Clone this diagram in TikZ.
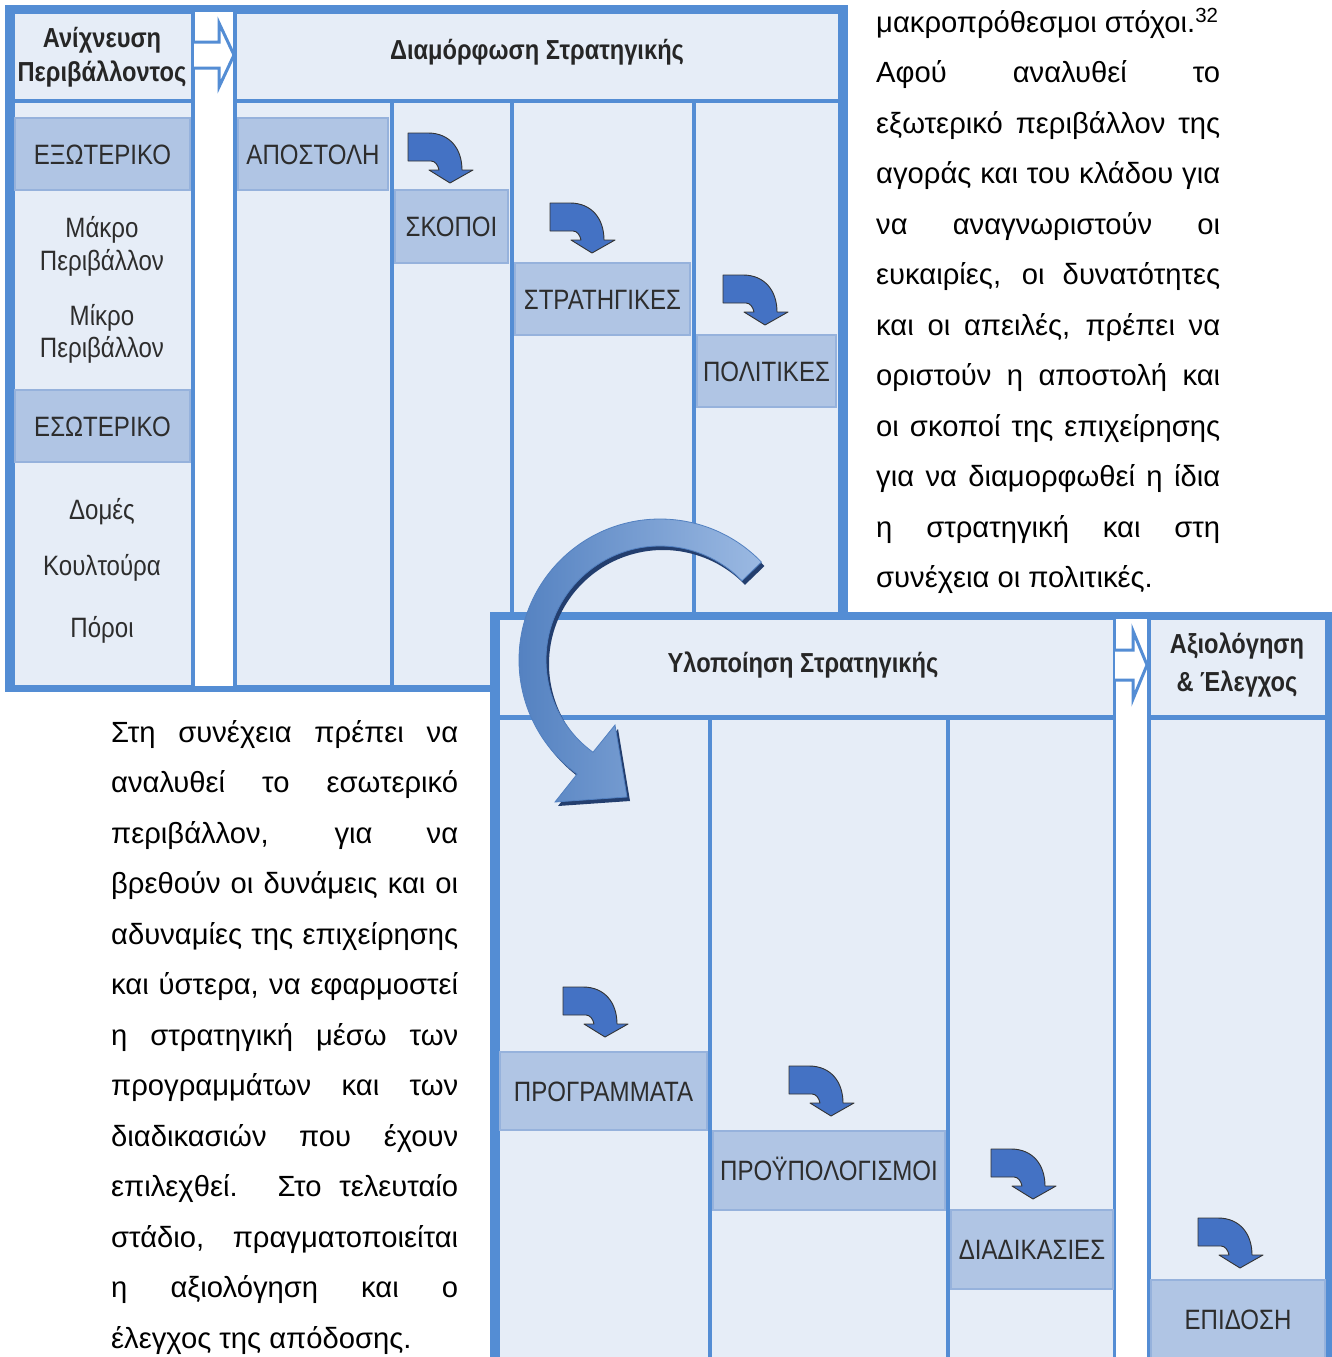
\documentclass[tikz,border=0pt]{standalone}
\usepackage{fontspec}
\setmainfont{Liberation Sans}
\newfontfamily\narrowsans[FakeStretch=0.86]{Liberation Sans}
\usepackage{tikz}
\tolerance=10000
\hbadness=10000
\hyphenpenalty=10000
\definecolor{frameblue}{RGB}{84,141,212}
\definecolor{cellfill}{RGB}{230,237,247}
\definecolor{tagfill}{RGB}{176,197,228}
\definecolor{tagline}{RGB}{150,178,220}
\definecolor{arrowblue}{RGB}{68,114,196}
\definecolor{labelgray}{RGB}{45,45,45}
\definecolor{shadowblue}{RGB}{35,62,110}
\definecolor{arcdark}{RGB}{82,128,192}
\definecolor{arclight}{RGB}{155,185,226}
\newcommand{\turnpath}{(-44:141) arc[start angle=-44, end angle=-234, radius=141]
  -- (-105,142) -- (-33,137) -- (-45,65) -- (-234:114)
  arc[start angle=-234, end angle=-44, radius=114] -- cycle}

\begin{document}
\begin{tikzpicture}[x=1pt, y=-1pt,
    cell/.style={draw=frameblue, fill=cellfill, line width=3pt},
    tag/.style={rectangle, draw=tagline, fill=tagfill, line width=1.2pt, inner sep=0pt,
                text height=20pt, text depth=0pt, text=labelgray,
                font=\narrowsans\fontsize{28}{30}\selectfont},
    hdr/.style={inner sep=0pt, anchor=base, text=black!85,
                font=\narrowsans\bfseries\fontsize{27.5}{30}\selectfont},
    item/.style={inner sep=0pt, anchor=base, text=labelgray,
                 font=\narrowsans\fontsize{28}{30}\selectfont},
    gaparrow/.style={draw=frameblue, fill=white, line width=3pt, line join=miter},
    para/.style={inner sep=0pt, text width=344pt, align=justify, anchor=base west,
                 font=\fontsize{29.2}{50.5}\selectfont},
    turnarrow/.pic={\filldraw[fill=arrowblue, draw=black!80, line width=0.9pt, line join=round]
        (0,0) -- (0,28) -- (23,28) .. controls (27,28) and (30,32) .. (31,37) -- (21,37)
        -- (42,50) -- (65,37) -- (54,37) .. controls (54,16) and (42,0) .. (20,0) -- cycle;}
]
\useasboundingbox (0,0) rectangle (1332,1357);
\clip (0,0) rectangle (1332,1357);

\fill[frameblue] (5,5) rectangle (848,692);
\fill[white] (195,12) rectangle (233,686);
\draw[cell] (13,12) rectangle (192,100);
\draw[cell] (13,101) rectangle (192,686);
\draw[cell] (235,12) rectangle (839,100);
\draw[cell] (235,101) rectangle (391,686);
\draw[cell] (392,101) rectangle (511,686);
\draw[cell] (512,101) rectangle (693,686);
\draw[cell] (694,101) rectangle (839,686);
\draw[gaparrow] (194,42) -- (219,42) -- (219,23) -- (234,55) -- (219,87) -- (219,68) -- (194,68);

\node[hdr] (scan1) at (102,47) {Ανίχνευση};
\node[hdr] (scan2) at (102,81) {Περιβάλλοντος};
\node[hdr] (shape) at (537,59) {Διαμόρφωση Στρατηγικής};

\node[tag, minimum width=175, minimum height=72] (extern) at (102.5,154) {ΕΞΩΤΕΡΙΚΟ};
\node[item] (macro1) at (102,237) {Μάκρο};
\node[item] (macro2) at (102,270) {Περιβάλλον};
\node[item] (micro1) at (102,325) {Μίκρο};
\node[item] (micro2) at (102,357) {Περιβάλλον};
\node[tag, minimum width=175, minimum height=72] (intern) at (102.5,426) {ΕΣΩΤΕΡΙΚΟ};
\node[item] (struct) at (102,519) {Δομές};
\node[item] (culture) at (102,575) {Κουλτούρα};
\node[item] (means) at (102,637) {Πόροι};

\node[tag, minimum width=150, minimum height=72] (mission) at (313,154) {ΑΠΟΣΤΟΛΗ};
\node[tag, minimum width=113, minimum height=73] (goals) at (451.5,226.5) {ΣΚΟΠΟΙ};
\node[tag, minimum width=175, minimum height=72] (strats) at (602.5,299) {ΣΤΡΑΤΗΓΙΚΕΣ};
\node[tag, minimum width=139, minimum height=72] (policies) at (766.5,371) {ΠΟΛΙΤΙΚΕΣ};
\pic at (408,133) {turnarrow};
\pic at (550,203) {turnarrow};
\pic at (723,275) {turnarrow};

\fill[frameblue] (490,612) rectangle (1332,1360);
\fill[white] (1116,619) rectangle (1147,1360);
\draw[cell] (498,618) rectangle (1114,716);
\draw[cell] (1149,618) rectangle (1326,716);
\draw[cell] (498,718) rectangle (709,1362);
\draw[cell] (710,718) rectangle (947,1362);
\draw[cell] (948,718) rectangle (1114,1362);
\draw[cell] (1149,718) rectangle (1326,1362);
\draw[gaparrow] (1115,650) -- (1133,650) -- (1133,631) -- (1147,665) -- (1133,699) -- (1133,680) -- (1115,680);

\node[hdr] (apply) at (803,672) {Υλοποίηση Στρατηγικής};
\node[hdr] (eval1) at (1237,653) {Αξιολόγηση};
\node[hdr] (eval2) at (1237,691) {\& Έλεγχος};

\node[tag, minimum width=207, minimum height=78] (programs) at (603.5,1091) {ΠΡΟΓΡΑΜΜΑΤΑ};
\node[tag, minimum width=232, minimum height=79] (budgets) at (829,1170.5) {ΠΡΟΫΠΟΛΟΓΙΣΜΟΙ};
\node[tag, minimum width=162, minimum height=79] (procs) at (1032,1249.5) {ΔΙΑΔΙΚΑΣΙΕΣ};
\node[tag, minimum width=174, minimum height=79] (perform) at (1238,1319.5) {ΕΠΙΔΟΣΗ};
\pic at (563,987) {turnarrow};
\pic at (789,1066) {turnarrow};
\pic at (991,1149) {turnarrow};
\pic at (1198,1218) {turnarrow};

\begin{scope}[shift={(663,664)}]
  \fill[shadowblue] \turnpath;
\end{scope}
\begin{scope}[shift={(660,660)}]
  \shade[left color=arcdark, right color=arclight, draw=arcdark, line width=0.8pt] \turnpath;
\end{scope}

\node[para] (righttext) at (876,32) {μακροπρόθεσμοι στόχοι.\textsuperscript{32}\\
Αφού αναλυθεί το\linebreak
εξωτερικό περιβάλλον της\linebreak
αγοράς και του κλάδου για\linebreak
να αναγνωριστούν οι\linebreak
ευκαιρίες, οι δυνατότητες\linebreak
και οι απειλές, πρέπει να\linebreak
οριστούν η αποστολή και\linebreak
οι σκοποί της επιχείρησης\linebreak
για να διαμορφωθεί η ίδια\linebreak
η στρατηγική και στη\linebreak
συνέχεια οι πολιτικές.};

\node[para, text width=347pt] (lefttext) at (111,742) {Στη συνέχεια πρέπει να\linebreak
αναλυθεί το εσωτερικό\linebreak
περιβάλλον, για να\linebreak
βρεθούν οι δυνάμεις και οι\linebreak
αδυναμίες της επιχείρησης\linebreak
και ύστερα, να εφαρμοστεί\linebreak
η στρατηγική μέσω των\linebreak
προγραμμάτων και των\linebreak
διαδικασιών που έχουν\linebreak
επιλεχθεί. Στο τελευταίο\linebreak
στάδιο, πραγματοποιείται\linebreak
η αξιολόγηση και ο\linebreak
έλεγχος της απόδοσης.};

\end{tikzpicture}
\end{document}
